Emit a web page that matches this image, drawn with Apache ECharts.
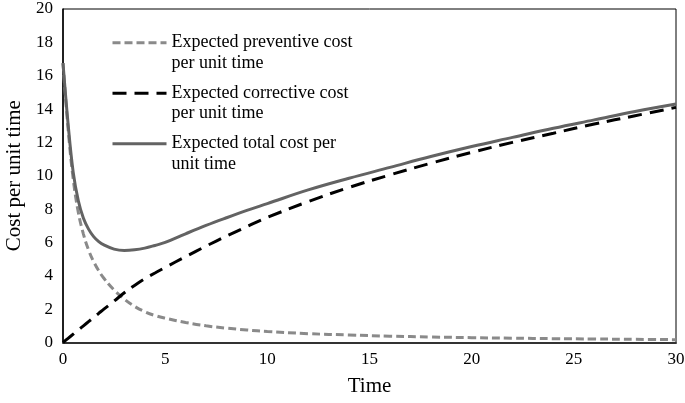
<!DOCTYPE html>
<html>
<head>
<meta charset="utf-8">
<script src="https://cdn.jsdelivr.net/npm/echarts@6/dist/echarts.min.js"></script>
<style>html,body{margin:0;padding:0;background:#fff}#c{width:685px;height:403px}</style>
</head>
<body>
<div id="c"></div>
<script>
var times = [0, 0.25, 0.5, 0.75, 1, 1.25, 1.5, 1.75, 2, 2.5, 3, 3.5, 4, 4.5, 5, 6, 7, 8, 9, 10, 12, 14, 16, 18, 20, 22, 24, 26, 28, 30];
var preventive = [16.75, 12.8, 9.8, 7.8, 6.5, 5.55, 4.85, 4.3, 3.85, 3.15, 2.6, 2.17, 1.85, 1.62, 1.46, 1.2, 1.0, 0.86, 0.75, 0.66, 0.53, 0.45, 0.38, 0.33, 0.29, 0.26, 0.23, 0.21, 0.19, 0.17];
var corrective = [0, 0.25, 0.5, 0.75, 1.0, 1.25, 1.5, 1.75, 2.0, 2.48, 2.98, 3.42, 3.82, 4.17, 4.5, 5.15, 5.78, 6.38, 6.95, 7.5, 8.45, 9.3, 10.05, 10.75, 11.4, 12.0, 12.55, 13.1, 13.6, 14.1];
var total = [16.75, 13.1, 10.2, 8.5, 7.45, 6.8, 6.35, 6.05, 5.85, 5.6, 5.52, 5.56, 5.66, 5.82, 6.0, 6.52, 7.02, 7.48, 7.92, 8.33, 9.15, 9.85, 10.5, 11.15, 11.75, 12.3, 12.85, 13.35, 13.85, 14.3];
var seriesNames = ['Expected preventive cost\nper unit time', 'Expected corrective cost\nper unit time', 'Expected total cost per\nunit time'];
var xTitle = 'Time';
var yTitle = 'Cost per unit time';

function pairs(v) { return times.map(function (t, i) { return [t, v[i]]; }); }

var font = 'Liberation Serif, Times New Roman, serif';
var chart = echarts.init(document.getElementById('c'), null, {renderer: 'canvas'});
chart.setOption({
  animation: false,
  backgroundColor: '#fff',
  grid: {left: 63, right: 9, top: 9, bottom: 60.5, show: true, borderColor: '#000', borderWidth: 1, outerBoundsMode: 'none', containLabel: false},
  legend: {
    orient: 'vertical', left: 111, top: 12, padding: 0, itemWidth: 54, itemHeight: 14, itemGap: -11,
    itemStyle: {opacity: 0},
    lineStyle: {width: 3},
    formatter: function (name) { return '\n' + name; },
    textStyle: {fontFamily: font, fontSize: 18, color: '#000', lineHeight: 20.5},
    data: seriesNames
  },
  xAxis: {
    type: 'value', min: 0, max: 30, interval: 5,
    name: xTitle, nameLocation: 'middle', nameGap: 33,
    nameTextStyle: {fontFamily: font, fontSize: 21, color: '#000'},
    axisLine: {show: true, lineStyle: {color: '#333', width: 2}},
    axisTick: {show: false},
    splitLine: {show: false},
    axisLabel: {fontFamily: font, fontSize: 17, color: '#000', margin: 9}
  },
  yAxis: {
    type: 'value', min: 0, max: 20, interval: 2,
    name: yTitle, nameLocation: 'middle', nameGap: 32,
    nameTextStyle: {fontFamily: font, fontSize: 21, color: '#000'},
    axisLine: {show: true, lineStyle: {color: '#000', width: 1.5}},
    axisTick: {show: false},
    splitLine: {show: false},
    axisLabel: {fontFamily: font, fontSize: 17, color: '#000', margin: 10}
  },
  series: [
    {name: seriesNames[0], type: 'line', data: pairs(preventive), smooth: 0.4, symbol: 'none',
     lineStyle: {color: '#8a8a8a', width: 3, type: [8, 4]}, itemStyle: {color: '#8a8a8a'}},
    {name: seriesNames[1], type: 'line', data: pairs(corrective), smooth: 0.4, symbol: 'none',
     lineStyle: {color: '#000', width: 3, type: [14, 8]}, itemStyle: {color: '#000'}},
    {name: seriesNames[2], type: 'line', data: pairs(total), smooth: 0.4, symbol: 'none',
     lineStyle: {color: '#636363', width: 3}, itemStyle: {color: '#636363'}}
  ]
});
</script>
</body>
</html>
